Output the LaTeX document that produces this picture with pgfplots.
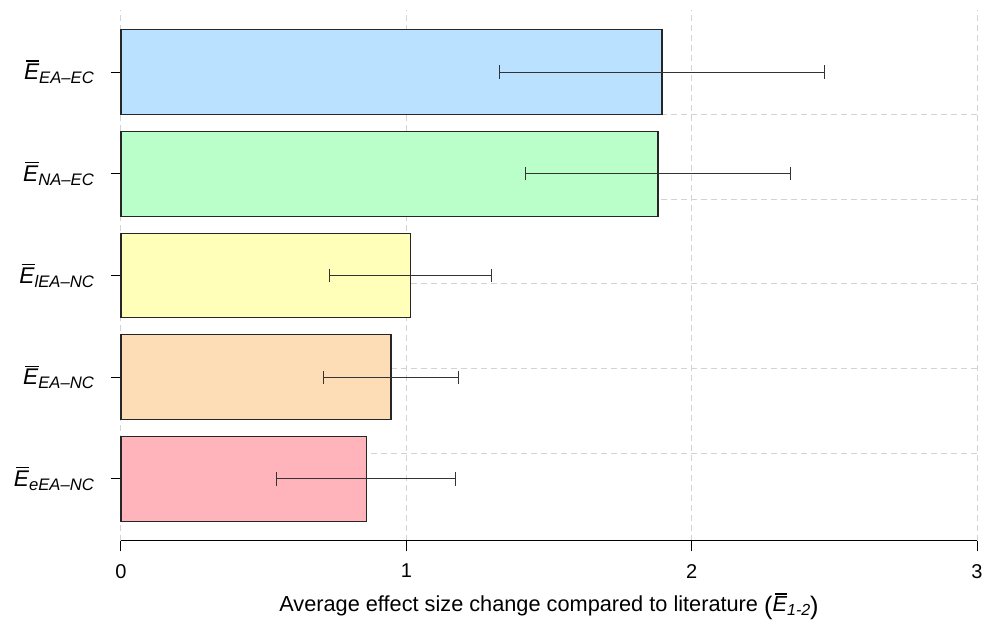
\documentclass[border=0pt]{standalone}
\usepackage{fontspec}
\setmainfont{Liberation Sans}
\usepackage{pgfplots}
\pgfplotsset{compat=1.18}
\definecolor{cblue}{HTML}{BAE1FF}
\definecolor{cgreen}{HTML}{BAFFC9}
\definecolor{cyellow}{HTML}{FFFFBA}
\definecolor{corange}{HTML}{FCDDB6}
\definecolor{cpink}{HTML}{FFB3BA}
\definecolor{gridgray}{HTML}{D3D3D3}
\newsavebox\ovlbox
\newcommand{\ovl}[1]{\sbox\ovlbox{#1}\rlap{\hspace{1.6pt}\rule[\dimexpr\ht\ovlbox+1.8pt\relax]{\dimexpr\wd\ovlbox-1.4pt\relax}{0.9pt}}\usebox\ovlbox}
\newcommand{\lab}[1]{{\fontsize{17}{20}\selectfont\ovl{\itshape E}\raisebox{-3pt}{\fontsize{12.5}{12.5}\selectfont\itshape #1}}}
\begin{document}
\begin{tikzpicture}
\begin{axis}[
  name=ax,
  scale only axis,
  clip=false,
  width=642pt, height=398.25pt,
  xmin=0, xmax=3, ymin=-0.032, ymax=6.232,
  axis x line*=bottom, axis y line*=left,
  x axis line style={-, line width=0.75pt},
  y axis line style={draw=none},
  tick align=outside,
  major tick length=7.8pt,
  tick style={line width=0.75pt, black},
  xtick={0,1,2,3},
  ytick={0.7,1.9,3.1,4.3,5.5},
  yticklabels={\lab{eEA--NC},\lab{EA--NC},\lab{lEA--NC},\lab{NA--EC},\lab{EA--EC}},
  minor ytick={1,2,3,4,5},
  minor tick length=0pt,
  xmajorgrids, yminorgrids,
  grid style={gridgray, line width=0.75pt, dash pattern=on 4.5pt off 3pt},
  minor grid style={gridgray, line width=0.75pt, dash pattern=on 4.5pt off 3pt},
  /pgf/number format/assume math mode=true,
  xticklabel style={font=\fontsize{15}{17}\selectfont, yshift=-6pt},
  yticklabel style={xshift=-9pt},
  xlabel={Average effect size change compared to literature {\fontsize{19}{19}\selectfont\raisebox{-1.8pt}{(}}\ovl{\itshape E}\raisebox{-2.5pt}{\fontsize{12}{12}\selectfont\itshape 1-2}{\fontsize{19}{19}\selectfont\raisebox{-1.8pt}{)}}},
  xlabel style={font=\fontsize{16.3}{19}\selectfont, at={(axis description cs:0.5,0)}, anchor=base, yshift=-53.25pt},
  every axis plot/.append style={xbar, bar shift=0pt, bar width=1, draw=black!85, line width=0.9pt},
  error bars/x dir=both, error bars/x explicit,
  error bars/error bar style={line width=0.75pt, draw=black!80},
  error bars/error mark options={rotate=90, mark size=5pt, line width=0.75pt, draw=black!80},
]
\addplot[fill=cpink] coordinates {(0.859,0.7) +- (0.314,0)};
\addplot[fill=corange] coordinates {(0.946,1.9) +- (0.237,0)};
\addplot[fill=cyellow] coordinates {(1.016,3.1) +- (0.284,0)};
\addplot[fill=cgreen] coordinates {(1.882,4.3) +- (0.465,0)};
\addplot[fill=cblue] coordinates {(1.896,5.5) +- (0.570,0)};
\end{axis}
\pgfresetboundingbox
\path (ax.south west) ++(-90.75pt,-59.25pt) coordinate (bl);
\path (ax.north east) ++(4.5pt,7.5pt) coordinate (tr);
\path[use as bounding box] (bl) rectangle (tr);
\end{tikzpicture}
\end{document}
